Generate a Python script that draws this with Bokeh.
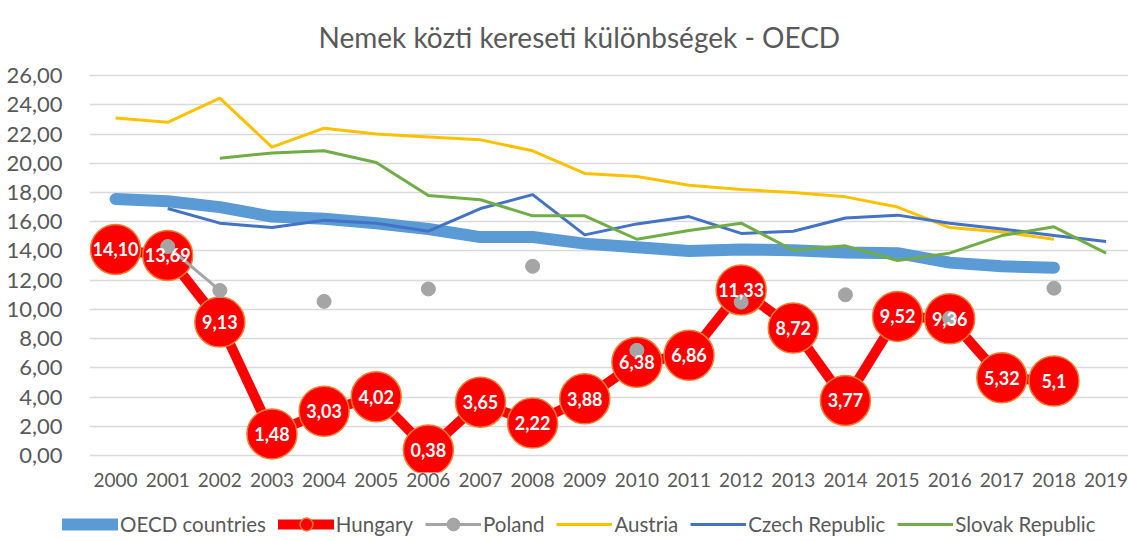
import math
from bokeh.plotting import figure
from bokeh.layouts import column, row
from bokeh.models import FixedTicker, Legend, LegendItem, ColumnDataSource, Range1d
from bokeh.core.properties import value
from bokeh.embed import file_html
from bokeh.resources import INLINE

nan = float("nan")
years = list(range(2000, 2020))
oecd = [17.55, 17.4, 17.0, 16.35, 16.2, 15.9, 15.5, 14.95, 14.95, 14.5, 14.25, 14.0, 14.1, 14.05, 13.9, 13.85, 13.2, 12.95, 12.85, nan]
hungary = [14.10, 13.69, 9.13, 1.48, 3.03, 4.02, 0.38, 3.65, 2.22, 3.88, 6.38, 6.86, 11.33, 8.72, 3.77, 9.52, 9.36, 5.32, 5.1, nan]
hungary_labels = ["14,10", "13,69", "9,13", "1,48", "3,03", "4,02", "0,38", "3,65", "2,22", "3,88",
                  "6,38", "6,86", "11,33", "8,72", "3,77", "9,52", "9,36", "5,32", "5,1", ""]
poland = [nan, 14.3, 11.3, nan, 10.55, nan, 11.4, nan, 12.95, nan, 7.2, nan, 10.5, nan, 11.0, nan, 9.4, nan, 11.45, nan]
austria = [23.1, 22.8, 24.45, 21.1, 22.4, 22.0, 21.8, 21.6, 20.85, 19.3, 19.1, 18.5, 18.2, 18.0, 17.7, 17.0, 15.6, 15.3, 14.8, nan]
czech = [nan, 16.9, 15.9, 15.6, 16.1, 15.9, 15.35, 16.9, 17.85, 15.1, 15.85, 16.35, 15.2, 15.35, 16.25, 16.45, 15.9, 15.5, 15.05, 14.65]
slovak = [nan, nan, 20.35, 20.7, 20.85, 20.05, 17.8, 17.5, 16.4, 16.4, 14.8, 15.4, 15.9, 14.05, 14.35, 13.35, 13.85, 15.05, 15.65, 13.85]
y_ticks = [0, 2, 4, 6, 8, 10, 12, 14, 16, 18, 20, 22, 24, 26]
y_tick_labels = ["0,00", "2,00", "4,00", "6,00", "8,00", "10,00", "12,00", "14,00", "16,00",
                 "18,00", "20,00", "22,00", "24,00", "26,00"]
series_names = ["OECD countries", "Hungary", "Poland", "Austria", "Czech Republic", "Slovak Republic"]
title_text = "Nemek közti kereseti különbségek - OECD"

FONT = "Lato"
GREY = "#595959"
C_OECD, C_HU, C_HU_EDGE, C_PL, C_AT, C_CZ, C_SK = "#5B9BD5", "#FF0000", "#ED7D31", "#A5A5A5", "#FFC000", "#4472C4", "#70AD47"

src = ColumnDataSource(dict(x=years, oecd=oecd, hu=hungary, hul=hungary_labels, pl=poland,
                            at=austria, cz=czech, sk=slovak))


def draw_series(fig, hu_size, pl_size):
    r = {}
    r["oecd"] = fig.line("x", "oecd", source=src, line_color=C_OECD, line_width=12, line_cap="round", line_join="round")
    r["hu_l"] = fig.line("x", "hu", source=src, line_color=C_HU, line_width=10, line_cap="round", line_join="round")
    r["hu_c"] = fig.scatter("x", "hu", source=src, size=hu_size, fill_color=C_HU, line_color=C_HU_EDGE, line_width=1.5)
    r["pl_l"] = fig.line("x", "pl", source=src, line_color=C_PL, line_width=3)
    r["pl_c"] = fig.scatter("x", "pl", source=src, size=pl_size, fill_color=C_PL, line_color=C_PL)
    r["at"] = fig.line("x", "at", source=src, line_color=C_AT, line_width=3, line_join="round")
    r["cz"] = fig.line("x", "cz", source=src, line_color=C_CZ, line_width=3, line_join="round")
    r["sk"] = fig.line("x", "sk", source=src, line_color=C_SK, line_width=3, line_join="round")
    return r


p = figure(width=1128, height=500, output_backend="svg", toolbar_location=None,
           x_range=(1999.5, 2019.43), y_range=(-1.16, 26.62),
           min_border_left=89, min_border_right=0, min_border_top=66, min_border_bottom=28)
p.outline_line_color = None
p.background_fill_color = "white"

p.title.text = title_text
p.title.align = "left"
p.title.offset = 229
p.title.text_font = FONT
p.title.text_font_size = "28px"
p.title.text_font_style = "normal"
p.title.text_color = GREY
p.title.standoff = 26

draw_series(p, 50, 14)
p.text("x", "hu", text="hul", source=src, text_align="center", text_baseline="middle",
       text_color="white", text_font=value(FONT), text_font_style="bold", text_font_size="18px")

p.xaxis.ticker = FixedTicker(ticks=years)
p.yaxis.ticker = FixedTicker(ticks=y_ticks)
p.yaxis.major_label_overrides = {t: l for t, l in zip(y_ticks, y_tick_labels)}
for ax in (p.xaxis, p.yaxis):
    ax.axis_line_color = None
    ax.major_tick_line_color = None
    ax.minor_tick_line_color = None
    ax.major_tick_out = 0
    ax.major_tick_in = 0
    ax.major_label_text_font = FONT
    ax.major_label_text_color = GREY
p.xaxis.major_label_text_font_size = "19px"
p.yaxis.major_label_text_font_size = "22px"
p.xaxis.major_label_standoff = 0
p.yaxis.major_label_standoff = 27
p.xgrid.grid_line_color = None
p.ygrid.grid_line_color = "#D9D9D9"
p.ygrid.grid_line_width = 1.5

# legend strip: a second figure whose series lie outside its (empty) view
lg = figure(width=1128, height=41, output_backend="svg", toolbar_location=None,
            x_range=(1999.5, 2019.43), y_range=Range1d(1000, 1001),
            x_axis_location=None, y_axis_location=None,
            min_border_left=62, min_border_right=0, min_border_top=0, min_border_bottom=0)
lg.outline_line_color = None
lg.xgrid.grid_line_color = None
lg.ygrid.grid_line_color = None
g = draw_series(lg, 13, 13)
renderer_groups = [[g["oecd"]], [g["hu_l"], g["hu_c"]], [g["pl_l"], g["pl_c"]], [g["at"]], [g["cz"]], [g["sk"]]]

legend = Legend(items=[LegendItem(label=n, renderers=r) for n, r in zip(series_names, renderer_groups)],
                orientation="horizontal", location=(0, 1))
legend.label_text_font = FONT
legend.label_text_font_size = "20.5px"
legend.label_text_color = GREY
legend.glyph_width = 56
legend.glyph_height = 32
legend.spacing = 12
legend.label_standoff = 2
legend.border_line_alpha = 0
legend.background_fill_alpha = 0
legend.padding = 0
legend.margin = 0
lg.add_layout(legend)

layout = column(p, row(lg, spacing=0), spacing=0)
open("out.html", "w").write(file_html(layout, INLINE))
